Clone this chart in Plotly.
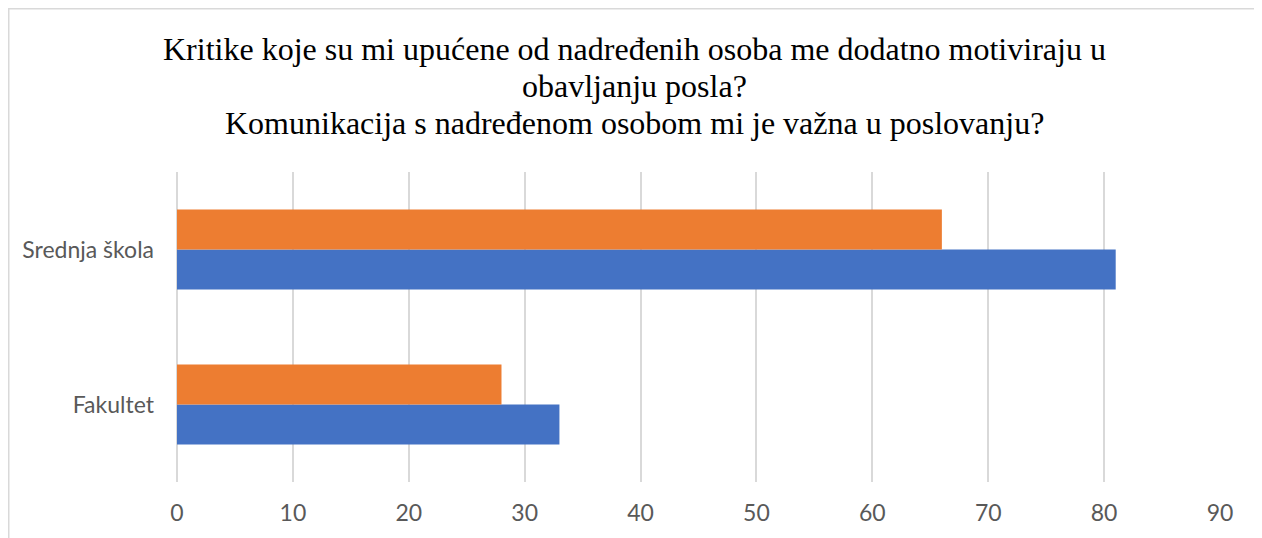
import plotly.graph_objects as go

categories = ["Fakultet", "Srednja škola"]
series1_name = "Komunikacija s nadređenom osobom mi je važna u poslovanju?"
series1_values = [33, 81]
series2_name = "Kritike koje su mi upućene od nadređenih osoba me dodatno motiviraju u obavljanju posla?"
series2_values = [28, 66]
x_ticks = [0, 10, 20, 30, 40, 50, 60, 70, 80, 90]
title_lines = [
    "Kritike koje su mi upućene od nadređenih osoba me dodatno motiviraju u",
    "obavljanju posla?",
    "Komunikacija s nadređenom osobom mi je važna u poslovanju?",
]

# page body has an 8px margin, so the figure is drawn 8px right/down
W, H = 1254, 530
L, R, T, B = 169, 42, 164, 56
pw, ph = W - L - R, H - T - B

fig = go.Figure()
fig.add_trace(go.Bar(y=categories, x=series1_values, orientation="h", name=series1_name,
                     marker=dict(color="#4472C4", line=dict(width=0))))
fig.add_trace(go.Bar(y=categories, x=series2_values, orientation="h", name=series2_name,
                     marker=dict(color="#ED7D31", line=dict(width=0))))

tick_font = dict(family="Lato, Carlito, Calibri, sans-serif", size=23, color="#595959")
title_font = dict(family="Liberation Serif, Times New Roman, serif", size=32, color="black")

# title lines as separate text items for Excel-like line spacing
title_annotations = [
    dict(text=line, xref="paper", yref="paper", x=(634 - 8 - L) / pw, y=1,
         xanchor="center", yanchor="middle", yshift=shift, showarrow=False, font=title_font)
    for line, shift in zip(title_lines, [123, 86, 49])
]

fig.update_layout(
    width=W, height=H,
    margin=dict(l=L, r=R, t=T, b=B),
    paper_bgcolor="white", plot_bgcolor="white",
    showlegend=False,
    barmode="group", bargap=0.484, bargroupgap=0,
    annotations=title_annotations,
    xaxis=dict(range=[0, 90], tickvals=x_ticks, showgrid=True, gridcolor="#d9d9d9", gridwidth=1.5,
               zeroline=True, zerolinecolor="#d9d9d9", zerolinewidth=1.5, showline=False,
               ticks="", tickfont=tick_font, ticklabelstandoff=15, fixedrange=True),
    yaxis=dict(type="category", categoryorder="array", categoryarray=categories,
               showgrid=False, zeroline=False, showline=False, ticks="", tickfont=tick_font,
               ticklabelstandoff=22, range=[-0.5, 1.5]),
    shapes=[dict(type="rect", xref="paper", yref="paper",
                 x0=(0.75 - L) / pw, x1=(1252 - L) / pw,
                 y0=(H - B - 560) / ph, y1=(H - B - 0.75) / ph,
                 line=dict(color="#d9d9d9", width=1.5), fillcolor="rgba(0,0,0,0)", layer="below")],
)

fig.write_html("out.html")
